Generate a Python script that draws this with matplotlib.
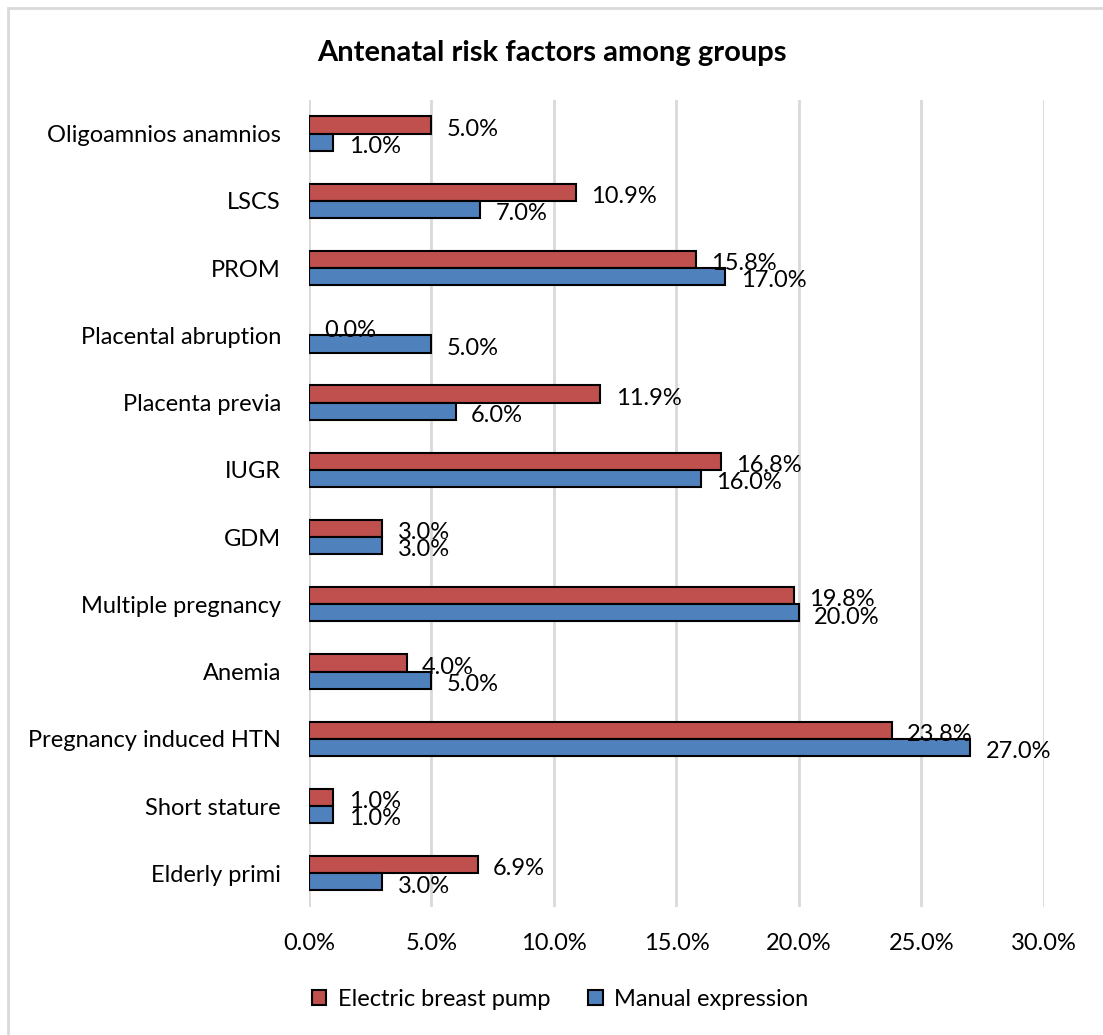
import numpy as np
import matplotlib.pyplot as plt
from matplotlib.patches import Rectangle
from matplotlib.ticker import FuncFormatter

# Risk factors, listed bottom to top as they appear on the y axis
factors = ["Elderly primi", "Short stature", "Pregnancy induced HTN", "Anemia",
           "Multiple pregnancy", "GDM", "IUGR", "Placenta previa",
           "Placental abruption", "PROM", "LSCS", "Oligoamnios anamnios"]
electric = [6.9, 1.0, 23.8, 4.0, 19.8, 3.0, 16.8, 11.9, 0.0, 15.8, 10.9, 5.0]
manual = [3.0, 1.0, 27.0, 5.0, 20.0, 3.0, 16.0, 6.0, 5.0, 17.0, 7.0, 1.0]
x_ticks = [0, 5, 10, 15, 20, 25, 30]

plt.rcParams['font.family'] = ['Lato', 'DejaVu Sans']

red = "#C0504D"
blue = "#4F81BD"

fig = plt.figure(figsize=(11.03, 10.35), dpi=100)
ax = fig.add_axes([0.280, 0.1237, 0.6665, 0.7797])

y = np.arange(len(factors))
h = 0.255
# no outline on empty bars
lw_e = [1.5 if v > 0 else 0 for v in electric]
lw_m = [1.5 if v > 0 else 0 for v in manual]
ax.barh(y + h / 2, electric, height=h, color=red, edgecolor="black", linewidth=lw_e,
        label="Electric breast pump", zorder=3)
ax.barh(y - h / 2, manual, height=h, color=blue, edgecolor="black", linewidth=lw_m,
        label="Manual expression", zorder=3)

# value labels just past the end of each bar
for yi, e, m in zip(y, electric, manual):
    ax.annotate(f"{e:.1f}%", (e, yi + h / 2), xytext=(11, -3), textcoords="offset points",
                ha="left", va="center", fontsize=17, zorder=4)
    ax.annotate(f"{m:.1f}%", (m, yi - h / 2), xytext=(11, -3), textcoords="offset points",
                ha="left", va="center", fontsize=17, zorder=4)

ax.set_xlim(0, 30)
ax.set_ylim(-0.5, len(factors) - 0.5)
ax.set_xticks(x_ticks)
ax.xaxis.set_major_formatter(FuncFormatter(lambda v, p: f"{v:.1f}%"))
ax.set_yticks(y)
ax.set_yticklabels(factors)
ax.tick_params(axis="both", length=0, labelsize=17)
ax.tick_params(axis="y", pad=20)
ax.tick_params(axis="x", pad=19)
ax.grid(axis="x", color="#d9d9d9", linewidth=2, zorder=0)
for s in ax.spines.values():
    s.set_visible(False)

fig.text(0.5, 0.949, "Antenatal risk factors among groups", ha="center", va="center",
         fontsize=21, fontweight="bold")

ax.legend(loc="center", bbox_to_anchor=(0.508, 0.034), bbox_transform=fig.transFigure,
          ncol=2, frameon=False, fontsize=17, handlelength=0.6, handleheight=0.6,
          handletextpad=0.5, columnspacing=1.6)

# chart frame
fig.patches.append(Rectangle((0.007, -0.01), 1.2, 1.002, transform=fig.transFigure,
                             fill=False, edgecolor="#d9d9d9", linewidth=2))

fig.savefig("out.png", dpi=100)
